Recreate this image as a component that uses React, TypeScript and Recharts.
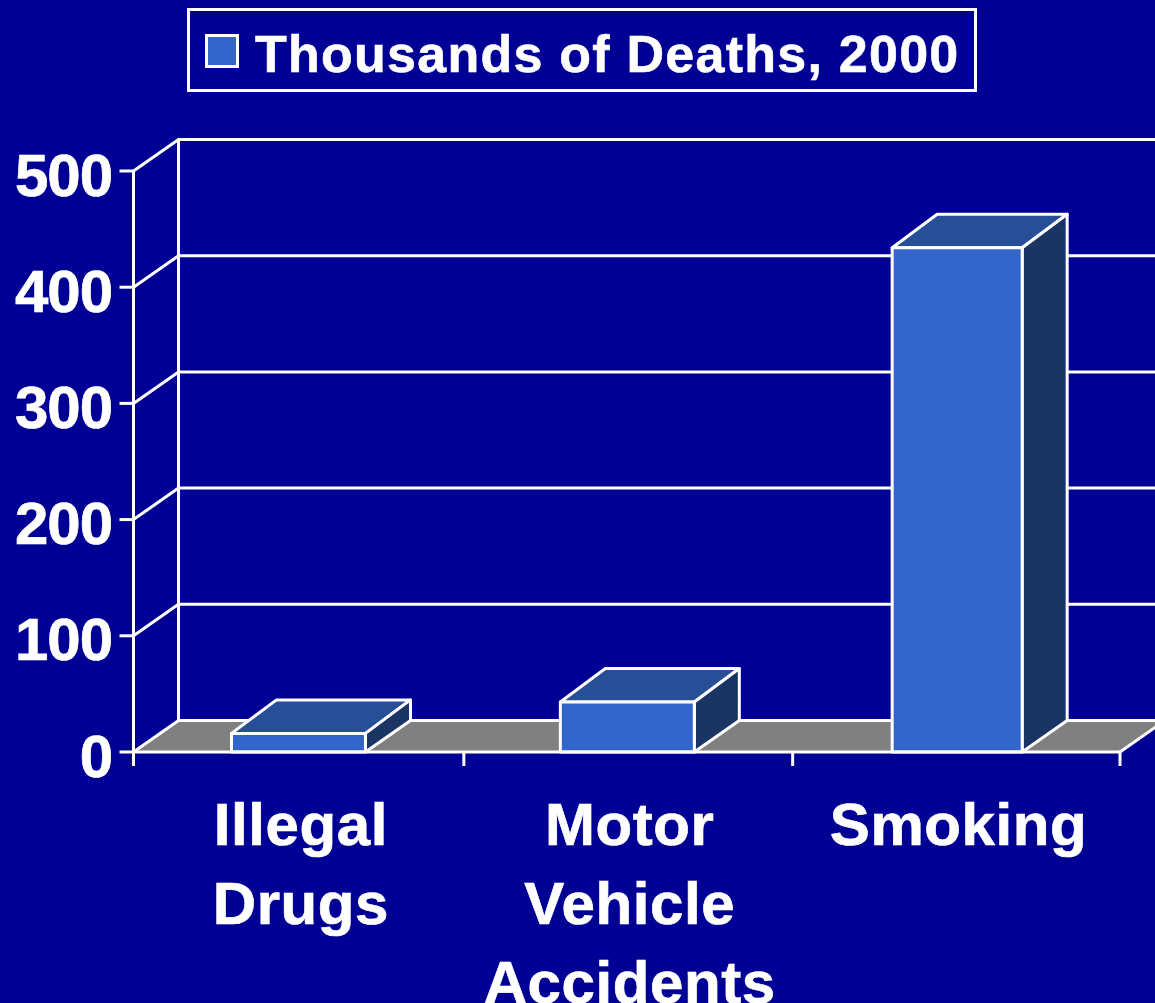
import React from "react";
import { Bar, BarChart, CartesianGrid, Legend, XAxis, YAxis } from "recharts";

const categories = ["Illegal Drugs", "Motor Vehicle Accidents", "Smoking"];
const deaths = [16, 43, 434];
const valueTicks = [0, 100, 200, 300, 400, 500];
const seriesName = "Thousands of Deaths, 2000";

const rows = categories.map((category, i) => ({ category, deaths: deaths[i] }));

const WIDTH = 1155;
const HEIGHT = 1003;
const PLOT = { left: 133.5, top: 171, right: 1120, bottom: 752 };
const BAND = (PLOT.right - PLOT.left) / categories.length;
const DEPTH_X = 45;
const DEPTH_Y = 31.5;

const WHITE = "#ffffff";
const BACKGROUND = "#000094";
const FRONT = "#3366cc";
const TOP = "#264f97";
const SIDE = "#1a3464";
const FLOOR = "#808080";
const FONT = "'Liberation Sans', Arial, sans-serif";
const LINE = 3;

// Each value gridline runs up the side wall and across the back wall.
// The zero line also lays down the floor, and adds the wall's corner post.
function WallLine(props: any) {
  const { x1, y1, index } = props;
  const backY = y1 - DEPTH_Y;
  const isFloor = Math.abs(y1 - PLOT.bottom) < 0.5;
  return (
    <g key={`wall-${index}`}>
      {isFloor && (
        <polygon
          points={`${x1},${y1} ${x1 + DEPTH_X},${backY} ${WIDTH + 60},${backY} ${PLOT.right + DEPTH_X},${backY} ${PLOT.right},${y1}`}
          fill={FLOOR}
        />
      )}
      {isFloor && (
        <line
          x1={PLOT.right}
          y1={y1}
          x2={PLOT.right + DEPTH_X}
          y2={backY}
          stroke={WHITE}
          strokeWidth={LINE}
        />
      )}
      {isFloor && (
        <line
          x1={x1 + DEPTH_X}
          y1={PLOT.top - DEPTH_Y}
          x2={x1 + DEPTH_X}
          y2={backY}
          stroke={WHITE}
          strokeWidth={LINE}
        />
      )}
      <polyline
        points={`${x1},${y1} ${x1 + DEPTH_X},${backY} ${WIDTH + 10},${backY}`}
        fill="none"
        stroke={WHITE}
        strokeWidth={LINE}
      />
    </g>
  );
}

// Extruded bar: front face from the scale, with a top and a side face behind it.
function Column(props: any) {
  const { x, y, width, height, index } = props;
  const isNarrow = index === categories.length - 1;
  const left = x + (isNarrow ? 4 : 1);
  const right = x + width + (isNarrow ? 0 : 1);
  const base = y + height;
  const rise = 33.5;
  return (
    <g stroke={WHITE} strokeWidth={LINE} strokeLinejoin="round">
      <polygon
        points={`${left},${y} ${left + DEPTH_X},${y - rise} ${right + DEPTH_X},${y - rise} ${right},${y}`}
        fill={TOP}
      />
      <polygon
        points={`${right},${y} ${right + DEPTH_X},${y - rise} ${right + DEPTH_X},${base - DEPTH_Y} ${right},${base}`}
        fill={SIDE}
      />
      <rect x={left} y={y} width={right - left} height={height} fill={FRONT} />
    </g>
  );
}

function CategoryTick(props: any) {
  const { x, payload, index } = props;
  const lines = String(payload.value).split(" ");
  const tickTop = PLOT.bottom;
  const tickBottom = PLOT.bottom + 14;
  const edge = x - BAND / 2 + (index > 0 ? 1.5 : 0);
  return (
    <g>
      <line x1={edge} y1={tickTop} x2={edge} y2={tickBottom} stroke={WHITE} strokeWidth={LINE} />
      {index === categories.length - 1 && (
        <line
          x1={x + BAND / 2}
          y1={tickTop}
          x2={x + BAND / 2}
          y2={tickBottom}
          stroke={WHITE}
          strokeWidth={LINE}
        />
      )}
      <text
        textAnchor="middle"
        fill={WHITE}
        stroke={WHITE}
        strokeWidth={0.7}
        fontFamily={FONT}
        fontWeight={700}
        fontSize={60}
        style={{ letterSpacing: 0.6 }}
      >
        {lines.map((line, i) => (
          <tspan key={line} x={x + 3} y={PLOT.bottom + 93 + i * 79}>
            {line}
          </tspan>
        ))}
      </text>
    </g>
  );
}

function ValueTick(props: any) {
  const { y, payload } = props;
  return (
    <text
      x={112}
      y={y + 24.5}
      textAnchor="end"
      fill={WHITE}
      stroke={WHITE}
      strokeWidth={0.7}
      fontFamily={FONT}
      fontWeight={700}
      fontSize={60}
      style={{ letterSpacing: -1 }}
    >
      {payload.value}
    </text>
  );
}

function LegendBox() {
  return (
    <div
      style={{
        position: "relative",
        width: 790,
        height: 84,
        boxSizing: "border-box",
        border: `3px solid ${WHITE}`,
      }}
    >
      <div
        style={{
          position: "absolute",
          left: 15,
          top: 23,
          width: 34,
          height: 34,
          boxSizing: "border-box",
          background: FRONT,
          border: `3px solid ${WHITE}`,
        }}
      />
      <div
        style={{
          position: "absolute",
          left: 65,
          top: 13,
          lineHeight: "60px",
          whiteSpace: "nowrap",
          color: WHITE,
          fontFamily: FONT,
          fontWeight: 700,
          fontSize: 52,
          letterSpacing: 1.25,
          WebkitTextStroke: `0.6px ${WHITE}`,
        }}
      >
        {seriesName}
      </div>
    </div>
  );
}

export default function App() {
  return (
    <div
      style={{
        position: "absolute",
        left: 0,
        top: 0,
        width: WIDTH,
        height: HEIGHT,
        overflow: "hidden",
        background: BACKGROUND,
      }}
    >
      <BarChart
        width={WIDTH}
        height={HEIGHT}
        data={rows}
        barSize={134}
        margin={{
          top: PLOT.top,
          left: PLOT.left - 1,
          right: WIDTH - PLOT.right,
          bottom: HEIGHT - PLOT.bottom - 1,
        }}
      >
        <CartesianGrid horizontal={WallLine as any} vertical={false} />
        <XAxis
          dataKey="category"
          height={1}
          interval={0}
          axisLine={{ stroke: WHITE, strokeWidth: LINE }}
          tickLine={false}
          tick={CategoryTick as any}
        />
        <YAxis
          width={1}
          domain={[0, 500]}
          ticks={valueTicks}
          axisLine={{ stroke: WHITE, strokeWidth: LINE }}
          tickLine={{ stroke: WHITE, strokeWidth: LINE }}
          tickSize={14}
          tick={ValueTick as any}
        />
        <Legend
          verticalAlign="middle"
          content={LegendBox as any}
          wrapperStyle={{ position: "absolute", left: 187, top: 8, width: 790, height: 84 }}
        />
        <Bar dataKey="deaths" name={seriesName} shape={Column as any} isAnimationActive={false} />
      </BarChart>
    </div>
  );
}
